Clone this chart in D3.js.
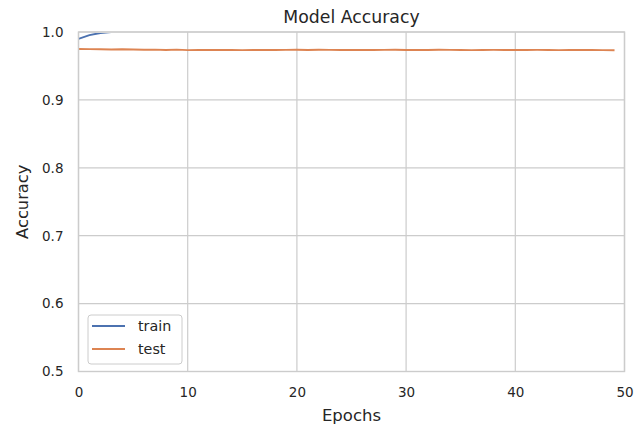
<!DOCTYPE html>
<html><head><meta charset="utf-8">
<script src="https://cdn.jsdelivr.net/npm/d3@7"></script>
<style>body{margin:0;background:#fff}svg{display:block}text{font-family:"DejaVu Sans",sans-serif;fill:#262626}</style>
</head><body><svg id="c" width="637" height="429"></svg>
<script>
const epochs = d3.range(0, 50);
const trainAcc = [0.9900,0.9955,0.9985,0.9998,1.0,1.0,1.0,1.0,1.0,1.0,
  1.0,1.0,1.0,1.0,1.0,1.0,1.0,1.0,1.0,1.0,1.0,1.0,1.0,1.0,1.0,1.0,1.0,1.0,1.0,1.0,
  1.0,1.0,1.0,1.0,1.0,1.0,1.0,1.0,1.0,1.0,1.0,1.0,1.0,1.0,1.0,1.0,1.0,1.0,1.0,1.0];
const testAcc = [0.9750,0.9748,0.9745,0.9742,0.9746,0.9743,0.9738,0.9741,0.9736,0.9740,
  0.9733,0.9737,0.9735,0.9736,0.9734,0.9733,0.9735,0.9736,0.9734,0.9737,
  0.9738,0.9736,0.9739,0.9737,0.9735,0.9734,0.9736,0.9735,0.9737,0.9738,
  0.9735,0.9734,0.9736,0.9738,0.9737,0.9735,0.9733,0.9736,0.9737,0.9735,
  0.9734,0.9736,0.9737,0.9735,0.9733,0.9736,0.9735,0.9734,0.9733,0.9732];
const xTicks = [0,10,20,30,40,50];
const yTicks = [0.5,0.6,0.7,0.8,0.9,1.0];
const seriesNames = ["train","test"];
const colors = ["#4c72b0","#dd8452"];

const L=78.5, R=624.5, T=32, B=371.5;
const svg = d3.select("#c");
const x = d3.scaleLinear().domain([0,50]).range([L,R]);
const y = d3.scaleLinear().domain([0.5,1.0]).range([B,T]);

// grid
svg.append("g").selectAll("line").data(xTicks).join("line")
  .attr("x1",d=>x(d)).attr("x2",d=>x(d)).attr("y1",T).attr("y2",B)
  .attr("stroke","#cccccc").attr("stroke-width",1.2);
svg.append("g").selectAll("line").data(yTicks).join("line")
  .attr("y1",d=>y(d)).attr("y2",d=>y(d)).attr("x1",L).attr("x2",R)
  .attr("stroke","#cccccc").attr("stroke-width",1.2);

svg.append("clipPath").attr("id","clip").append("rect")
  .attr("x",L).attr("y",T+1.1).attr("width",R-L).attr("height",B-T-1.1);

const line = d3.line().x((d,i)=>x(epochs[i])).y(d=>y(d));
const data = [trainAcc, testAcc];
svg.append("g").attr("clip-path","url(#clip)").selectAll("path").data(data).join("path")
  .attr("d",d=>line(d)).attr("fill","none")
  .attr("stroke",(d,i)=>colors[i]).attr("stroke-width",1.9).attr("stroke-linecap","square");

// spines
svg.append("rect").attr("x",L).attr("y",T).attr("width",R-L).attr("height",B-T)
  .attr("fill","none").attr("stroke","#cccccc").attr("stroke-width",1.4);

const xAxis = svg.append("g").attr("transform",`translate(0,${B})`)
  .call(d3.axisBottom(x).tickValues(xTicks).tickSize(0).tickPadding(16).tickFormat(d3.format("d")));
const yAxis = svg.append("g").attr("transform",`translate(${L},0)`)
  .call(d3.axisLeft(y).tickValues(yTicks).tickSize(0).tickPadding(15).tickFormat(d3.format(".1f")));
[xAxis,yAxis].forEach(a=>{a.select(".domain").remove();
  a.selectAll("text").style("font-size","13.5px").attr("fill","#262626").style("font-family","DejaVu Sans");});

svg.append("text").attr("x",(L+R)/2).attr("y",415).attr("dy","0.35em").attr("text-anchor","middle")
  .style("font-size","16.5px").text("Epochs");
svg.append("text").attr("transform",`translate(22,${(T+B)/2}) rotate(-90)`)
  .attr("text-anchor","middle").attr("dy","0.35em").style("font-size","16.3px").text("Accuracy");
svg.append("text").attr("x",(L+R)/2).attr("y",17).attr("dy","0.35em").attr("text-anchor","middle")
  .style("font-size","17.3px").text("Model Accuracy");

// legend
const lg = svg.append("g");
lg.append("rect").attr("x",88).attr("y",315).attr("width",94).attr("height",49).attr("rx",3)
  .attr("fill","#ffffff").attr("fill-opacity",0.8).attr("stroke","#cccccc").attr("stroke-width",1);
seriesNames.forEach((n,i)=>{
  const yy = 326 + i*23;
  lg.append("line").attr("x1",92).attr("x2",125).attr("y1",yy).attr("y2",yy)
    .attr("stroke",colors[i]).attr("stroke-width",1.9);
  lg.append("text").attr("x",138).attr("y",yy).attr("dy","0.35em").style("font-size","14.3px").text(n);
});
</script></body></html>
